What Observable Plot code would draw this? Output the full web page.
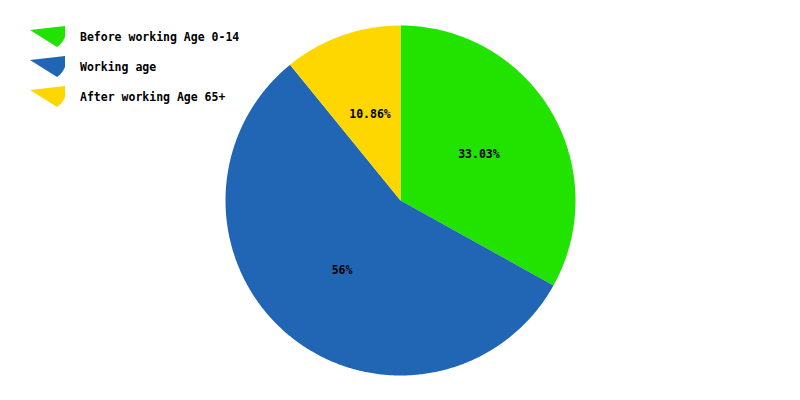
<!DOCTYPE html>
<html>
<head>
<meta charset="utf-8">
<script src="https://cdn.jsdelivr.net/npm/d3@7"></script>
<script src="https://cdn.jsdelivr.net/npm/@observablehq/plot@0.6"></script>
<style>
  html, body { margin: 0; padding: 0; background: #fff; }
  #wrap { position: relative; width: 800px; height: 400px; }
  #legend { position: absolute; left: 0; top: 0; }
  #legend text { font-family: "DejaVu Sans Mono", monospace; font-weight: bold; font-size: 11.5px; fill: #000; }
</style>
</head>
<body>
<div id="wrap">
  <div id="chart"></div>
  <svg id="legend" width="260" height="120"></svg>
</div>
<script>
const categories = ["Before working Age 0-14", "Working age", "After working Age 65+"];
const values = [33.03, 56, 10.86];
const labels = ["33.03%", "56%", "10.86%"];
const colors = ["#22e200", "#2166b4", "#ffd700"];

const arcs = d3.pie().sort(null).value(d => d)(values);

// slice polygons in unit-circle coordinates (y up)
const polyRows = [];
arcs.forEach((a, i) => {
  polyRows.push({cat: categories[i], x: 0, y: 0});
  const n = Math.max(2, Math.ceil((a.endAngle - a.startAngle) / (Math.PI / 360)));
  for (let k = 0; k <= n; k++) {
    const t = a.startAngle + (a.endAngle - a.startAngle) * k / n;
    polyRows.push({cat: categories[i], x: Math.sin(t), y: Math.cos(t)});
  }
});

const labelRows = arcs.map((a, i) => {
  const m = (a.startAngle + a.endAngle) / 2;
  return {label: labels[i], x: 0.52 * Math.sin(m), y: 0.52 * Math.cos(m)};
});

const chart = Plot.plot({
  width: 800,
  height: 400,
  marginLeft: 225,
  marginRight: 225,
  marginTop: 25,
  marginBottom: 25,
  x: {domain: [-1, 1], axis: null},
  y: {domain: [-1, 1], axis: null},
  color: {domain: categories, range: colors},
  style: {background: "#fff"},
  marks: [
    Plot.line(polyRows, {x: "x", y: "y", z: "cat", fill: "cat", stroke: "none", curve: "linear-closed"}),
    Plot.text(labelRows, {x: "x", y: "y", text: "label", fill: "#000",
      fontFamily: "DejaVu Sans Mono", fontWeight: "bold", fontSize: 11.5})
  ]
});
document.getElementById("chart").appendChild(chart);

// legend with wedge icons
const leg = d3.select("#legend");
categories.forEach((c, i) => {
  const dy = i * 30;
  leg.append("path")
    .attr("d", `M30,${30 + dy} L65,${26 + dy} L65,${37 + dy} Q62,${44 + dy} 57,${47 + dy} Z`)
    .attr("fill", colors[i]);
  leg.append("text").attr("x", 80).attr("y", 41 + dy).text(c);
});
</script>
</body>
</html>
